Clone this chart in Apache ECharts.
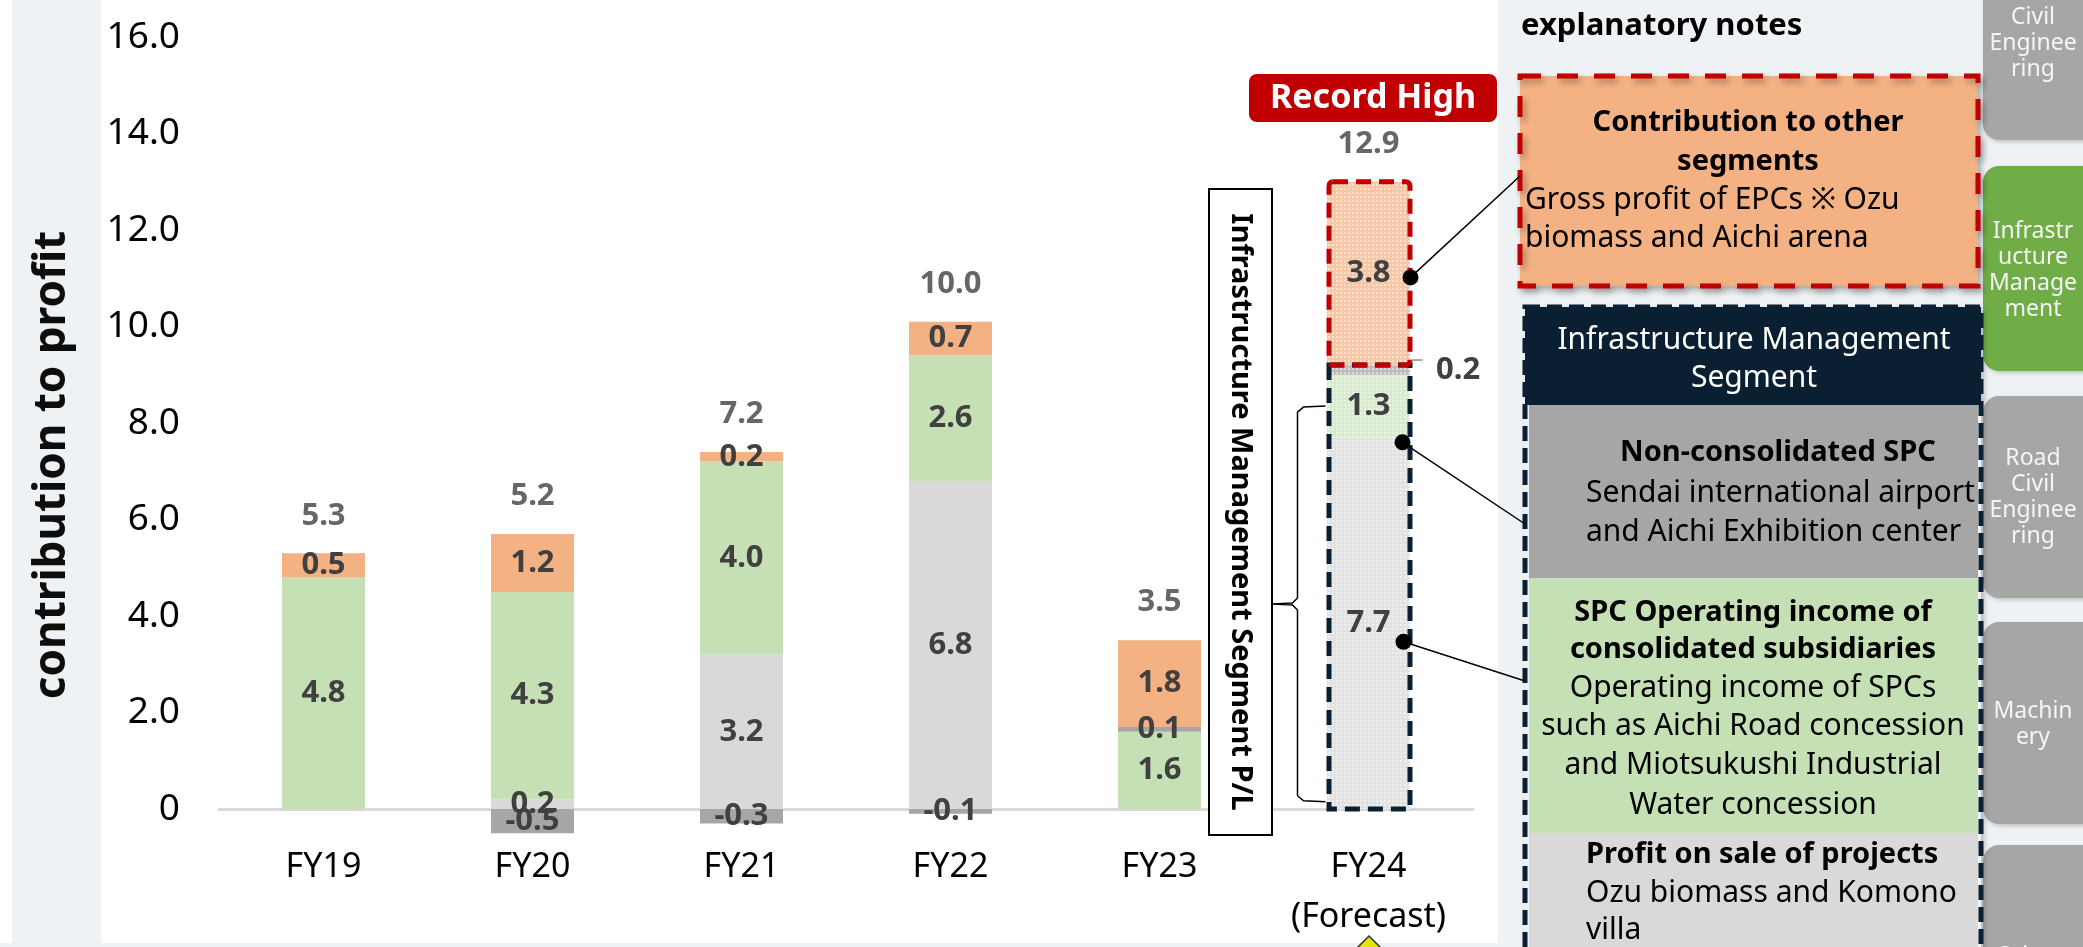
<!DOCTYPE html>
<html>
<head>
<meta charset="utf-8">
<title>Infrastructure Management contribution to profit</title>
<script src="https://cdn.jsdelivr.net/npm/echarts/dist/echarts.min.js"></script>
<style>
  html, body { margin: 0; padding: 0; background: #fff; }
  #main { width: 2083px; height: 947px; }
</style>
</head>
<body>
<div id="main"></div>
<script>
// data (billion yen)
const categories = ['FY19', 'FY20', 'FY21', 'FY22', 'FY23', 'FY24\n(Forecast)']
const saleProfit = [null, 0.2, 3.2, 6.8, null, 7.7]          // profit on sale of projects
const spcConsolidated = [4.8, 4.3, 4.0, 2.6, 1.6, 1.3]       // SPC operating income, consolidated
const spcNonConsolidated = [null, -0.5, -0.3, -0.1, 0.1, 0.2] // non-consolidated SPC
const otherSegments = [0.5, 1.2, 0.2, 0.7, 1.8, 3.8]         // contribution to other segments
const totals = [5.3, 5.2, 7.2, 10.0, 3.5, 12.9]
const forecastIndex = 5

const FONT = '"Noto Sans", "Open Sans", sans-serif'
const colors = {
  sale: '#d9d9d9',
  spc: '#c5e0b4',
  nonSpc: '#a6a6a6',
  other: '#f4b183',
  panel: '#eef2f4',
  navy: '#0b1f33',
  red: '#c00000'
}
// lighter fill for the forecast bar (dotted texture in the original)
const forecastColors = {
  sale: '#e2e2e2',
  spc: '#d9ebcf',
  nonSpc: '#bdbdbd',
  other: '#f7c6a5'
}

const hatch = {
  symbol: 'rect',
  symbolSize: 1,
  color: 'rgba(255,255,255,0.45)',
  dashArrayX: [2, 2],
  dashArrayY: [2, 2],
  rotation: 0
}

function buildData(values, key) {
  return values.map((v, i) => {
    if (i !== forecastIndex || v == null) return v
    return { value: v, itemStyle: { color: forecastColors[key], decal: hatch } }
  })
}

// top of positive stack, used to place the total labels
const positiveTop = categories.map((c, i) =>
  [saleProfit[i], spcConsolidated[i], spcNonConsolidated[i], otherSegments[i]]
    .filter(v => v != null && v > 0)
    .reduce((a, b) => a + b, 0)
)
const segmentTop = (saleProfit[forecastIndex] || 0) + spcConsolidated[forecastIndex] +
  Math.max(spcNonConsolidated[forecastIndex], 0)
const frameData = [
  [forecastIndex, 0, segmentTop],
  [forecastIndex, segmentTop, segmentTop + otherSegments[forecastIndex]]
]

const segLabel = {
  show: true,
  position: 'inside',
  color: '#404040',
  fontSize: 31,
  fontWeight: 'bold',
  fontFamily: FONT,
  formatter: p => (p.value == null ? '' : Number(p.value).toFixed(1))
}

function barSeries(name, values, key) {
  return {
    name: name,
    type: 'bar',
    stack: 'pl',
    barWidth: 83,
    clip: false,
    itemStyle: { color: colors[key] },
    label: segLabel,
    data: buildData(values, key)
  }
}

const nonSpcSeries = barSeries('Non-consolidated SPC', spcNonConsolidated, 'nonSpc')
// forecast value 0.2 sits to the right of the bar
nonSpcSeries.data[forecastIndex].label = { position: 'right', distance: 26 }

// ---------- right hand panel ----------
const tabs = [
  { y: -20, h: 160, text: 'Civil\nEnginee\nring', ty: 43, color: '#a6a6a6' },
  { y: 166, h: 205, text: 'Infrastr\nucture\nManage\nment', ty: 270, color: '#70ad47' },
  { y: 396, h: 202, text: 'Road\nCivil\nEnginee\nring', ty: 497, color: '#a6a6a6' },
  { y: 622, h: 202, text: 'Machin\nery', ty: 724, color: '#a6a6a6' },
  { y: 845, h: 160, text: 'Others', ty: 956, color: '#a6a6a6' }
]

const textStyle = (extra) => Object.assign({
  fontFamily: FONT,
  fontSize: 30,
  fill: '#000',
  lineHeight: 38
}, extra)

const panelGraphics = [
  // backgrounds
  { type: 'rect', z: 0, shape: { x: 12, y: 0, width: 89, height: 943 }, style: { fill: colors.panel } },
  { type: 'rect', z: 0, shape: { x: 0, y: 943, width: 2083, height: 4 }, style: { fill: colors.panel } },
  { type: 'rect', z: 0, shape: { x: 1498, y: 0, width: 585, height: 947 }, style: { fill: colors.panel } },
  // axis title
  {
    type: 'text', z: 5, x: 52, y: 465, rotation: Math.PI / 2,
    style: textStyle({ text: 'contribution to profit', fontSize: 44, fontWeight: 'bold', align: 'center', verticalAlign: 'middle', fill: '#0d0d0d' })
  },
  // panel title
  {
    type: 'text', z: 5, x: 1521, y: 26,
    style: textStyle({ text: 'explanatory notes', fontSize: 31, fontWeight: 'bold', verticalAlign: 'middle' })
  },
  // contribution to other segments box
  {
    type: 'rect', z: 4, shape: { x: 1520, y: 76, width: 458, height: 210 },
    style: {
      fill: colors.other, stroke: colors.red, lineWidth: 5, lineDash: [21, 16],
      shadowBlur: 6, shadowOffsetX: 3, shadowOffsetY: 4, shadowColor: 'rgba(0,0,0,0.3)'
    }
  },
  { type: 'text', z: 6, x: 1748, y: 123, style: textStyle({ text: 'Contribution to other', fontWeight: 'bold', fontSize: 29, align: 'center', verticalAlign: 'middle' }) },
  { type: 'text', z: 6, x: 1748, y: 162, style: textStyle({ text: 'segments', fontWeight: 'bold', fontSize: 29, align: 'center', verticalAlign: 'middle' }) },
  { type: 'text', z: 6, x: 1525, y: 200, style: textStyle({ text: 'Gross profit of EPCs \u203b Ozu', verticalAlign: 'middle' }) },
  { type: 'text', z: 6, x: 1525, y: 238, style: textStyle({ text: 'biomass and Aichi arena', verticalAlign: 'middle' }) },
  // infrastructure management segment
  {
    type: 'rect', z: 4, shape: { x: 1525, y: 307, width: 456, height: 700 },
    style: { fill: colors.panel, shadowBlur: 6, shadowOffsetX: 3, shadowOffsetY: 3, shadowColor: 'rgba(0,0,0,0.25)' }
  },
  { type: 'rect', z: 5, shape: { x: 1525, y: 307, width: 456, height: 98 }, style: { fill: colors.navy } },
  { type: 'rect', z: 5, shape: { x: 1529, y: 405, width: 449, height: 173 }, style: { fill: '#a6a6a6' } },
  { type: 'rect', z: 5, shape: { x: 1529, y: 578, width: 449, height: 255 }, style: { fill: colors.spc } },
  { type: 'rect', z: 5, shape: { x: 1529, y: 833, width: 449, height: 120 }, style: { fill: colors.sale } },
  {
    type: 'rect', z: 7, shape: { x: 1525, y: 307, width: 456, height: 700 },
    style: { fill: null, stroke: colors.navy, lineWidth: 5, lineDash: [15, 7] }
  },
  { type: 'text', z: 6, x: 1754, y: 340, style: textStyle({ text: 'Infrastructure Management', fill: '#fff', align: 'center', verticalAlign: 'middle' }) },
  { type: 'text', z: 6, x: 1754, y: 378, style: textStyle({ text: 'Segment', fill: '#fff', align: 'center', verticalAlign: 'middle' }) },
  { type: 'text', z: 6, x: 1778, y: 453, style: textStyle({ text: 'Non-consolidated SPC', fontWeight: 'bold', fontSize: 29, align: 'center', verticalAlign: 'middle' }) },
  { type: 'text', z: 6, x: 1586, y: 493, style: textStyle({ text: 'Sendai international airport', verticalAlign: 'middle' }) },
  { type: 'text', z: 6, x: 1586, y: 532, style: textStyle({ text: 'and Aichi Exhibition center', verticalAlign: 'middle' }) },
  { type: 'text', z: 6, x: 1753, y: 613, style: textStyle({ text: 'SPC Operating income of', fontWeight: 'bold', fontSize: 29, align: 'center', verticalAlign: 'middle' }) },
  { type: 'text', z: 6, x: 1753, y: 650, style: textStyle({ text: 'consolidated subsidiaries', fontWeight: 'bold', fontSize: 29, align: 'center', verticalAlign: 'middle' }) },
  { type: 'text', z: 6, x: 1753, y: 688, style: textStyle({ text: 'Operating income of SPCs', align: 'center', verticalAlign: 'middle' }) },
  { type: 'text', z: 6, x: 1753, y: 726, style: textStyle({ text: 'such as Aichi Road concession', align: 'center', verticalAlign: 'middle' }) },
  { type: 'text', z: 6, x: 1753, y: 765, style: textStyle({ text: 'and Miotsukushi Industrial', align: 'center', verticalAlign: 'middle' }) },
  { type: 'text', z: 6, x: 1753, y: 805, style: textStyle({ text: 'Water concession', align: 'center', verticalAlign: 'middle' }) },
  { type: 'text', z: 6, x: 1586, y: 855, style: textStyle({ text: 'Profit on sale of projects', fontWeight: 'bold', fontSize: 29, verticalAlign: 'middle' }) },
  { type: 'text', z: 6, x: 1586, y: 893, style: textStyle({ text: 'Ozu biomass and Komono', verticalAlign: 'middle' }) },
  { type: 'text', z: 6, x: 1586, y: 930, style: textStyle({ text: 'villa', verticalAlign: 'middle' }) },
  // record high badge
  { type: 'rect', z: 6, shape: { x: 1249, y: 74, width: 248, height: 48, r: 8 }, style: { fill: colors.red } },
  { type: 'text', z: 7, x: 1373, y: 98, style: textStyle({ text: 'Record High', fill: '#fff', fontSize: 34, fontWeight: 'bold', align: 'center', verticalAlign: 'middle' }) },
  // vertical segment label box
  { type: 'rect', z: 6, shape: { x: 1209, y: 189, width: 63, height: 646 }, style: { fill: '#fff', stroke: '#000', lineWidth: 2 } },
  {
    type: 'text', z: 7, x: 1240, y: 512, rotation: -Math.PI / 2,
    style: textStyle({ text: 'Infrastructure Management Segment P/L', fontSize: 29, fontWeight: 'bold', align: 'center', verticalAlign: 'middle' })
  },
  // little marker below FY24
  { type: 'polygon', z: 6, shape: { points: [[1357, 948], [1369, 936], [1381, 948]] }, style: { fill: '#e2e600', stroke: '#333', lineWidth: 1.5 } }
]

tabs.forEach(t => {
  panelGraphics.push({
    type: 'rect', z: 3, shape: { x: 1983, y: t.y, width: 130, height: t.h, r: 16 },
    style: { fill: t.color, shadowBlur: 4, shadowOffsetX: 2, shadowOffsetY: 2, shadowColor: 'rgba(0,0,0,0.2)' }
  })
  panelGraphics.push({
    type: 'text', z: 4, x: 2033, y: t.ty,
    style: textStyle({ text: t.text, fill: '#f5f5f5', fontSize: 23, lineHeight: 26, align: 'center', verticalAlign: 'middle' })
  })
})

const option = {
  backgroundColor: '#fff',
  animation: false,
  grid: { left: 219, right: 610, top: 37, bottom: 138 },
  xAxis: {
    type: 'category',
    data: categories,
    axisLine: { show: true, lineStyle: { color: '#d9d9d9', width: 3 } },
    axisTick: { show: false },
    axisLabel: { color: '#000', fontSize: 34, fontFamily: FONT, margin: 33, lineHeight: 50 }
  },
  yAxis: {
    type: 'value',
    min: 0,
    max: 16,
    interval: 2,
    axisLine: { show: false },
    axisTick: { show: false },
    splitLine: { show: false },
    axisLabel: {
      color: '#000',
      fontSize: 37,
      fontFamily: FONT,
      margin: 39,
      formatter: v => (v === 0 ? '0' : v.toFixed(1))
    }
  },
  series: [
    barSeries('Profit on sale of projects', saleProfit, 'sale'),
    barSeries('SPC operating income of consolidated subsidiaries', spcConsolidated, 'spc'),
    nonSpcSeries,
    barSeries('Contribution to other segments', otherSegments, 'other'),
    {
      name: 'Total',
      type: 'scatter',
      symbolSize: 0,
      silent: true,
      z: 5,
      label: {
        show: true,
        position: 'top',
        distance: 22,
        color: '#404040',
        fontSize: 31,
        fontWeight: 'bold',
        fontFamily: FONT,
        formatter: p => totals[p.dataIndex].toFixed(1)
      },
      data: positiveTop.map((v, i) => [i, v])
    },
    {
      name: 'Forecast frame',
      type: 'custom',
      z: 6,
      silent: true,
      encode: { x: 0, y: [1, 2] },
      renderItem: (params, api) => {
        const lo = api.coord([api.value(0), api.value(1)])
        const hi = api.coord([api.value(0), api.value(2)])
        const w = 83
        return {
          type: 'rect',
          shape: { x: lo[0] - w / 2 + 2, y: hi[1], width: w - 2, height: lo[1] - hi[1], r: params.dataIndex === 1 ? 4 : 0 },
          style: {
            fill: null,
            stroke: params.dataIndex === 1 ? colors.red : colors.navy,
            lineWidth: 5,
            lineDash: [15, 8]
          }
        }
      },
      data: frameData
    }
  ],
  graphic: panelGraphics
}

const chart = echarts.init(document.getElementById('main'))
chart.setOption(option)

// annotations tied to the forecast bar
const px = v => chart.convertToPixel({ gridIndex: 0 }, [forecastIndex, v])
const dot1 = px(segmentTop + otherSegments[forecastIndex] / 2)
const dot2 = px(saleProfit[forecastIndex] - 0.1)
const dot3 = px(saleProfit[forecastIndex] * 0.45)
const nonTop = px(segmentTop)
const bracketTop = px(saleProfit[forecastIndex] + spcConsolidated[forecastIndex] * 0.5)
const bracketBottom = px(0.15)
const bx = dot1[0] - 43 // left edge of the bar
const midY = (bracketTop[1] + bracketBottom[1]) / 2

const annotations = [
  { type: 'line', z: 10, shape: { x1: dot1[0] + 42, y1: dot1[1] + 4, x2: 1520, y2: 176 }, style: { stroke: '#000', lineWidth: 1.5 } },
  { type: 'line', z: 10, shape: { x1: dot2[0] + 34, y1: dot2[1], x2: 1525, y2: 524 }, style: { stroke: '#000', lineWidth: 1.5 } },
  { type: 'line', z: 10, shape: { x1: dot3[0] + 35, y1: dot3[1], x2: 1525, y2: 681 }, style: { stroke: '#000', lineWidth: 1.5 } },
  { type: 'circle', z: 11, shape: { cx: dot1[0] + 42, cy: dot1[1] + 4, r: 8 }, style: { fill: '#000' } },
  { type: 'circle', z: 11, shape: { cx: dot2[0] + 34, cy: dot2[1], r: 8 }, style: { fill: '#000' } },
  { type: 'circle', z: 11, shape: { cx: dot3[0] + 35, cy: dot3[1], r: 8 }, style: { fill: '#000' } },
  // leader for the 0.2 label
  { type: 'line', z: 10, shape: { x1: bx + 86, y1: nonTop[1] - 5, x2: bx + 97, y2: nonTop[1] - 5 }, style: { stroke: '#a6a6a6', lineWidth: 2 } },
  // brace between the P/L box and the forecast bar
  {
    type: 'polyline', z: 10,
    shape: {
      points: [
        [bx, bracketTop[1]], [bx - 22, bracketTop[1] + 1], [bx - 28, bracketTop[1] + 6],
        [bx - 28, midY - 6], [bx - 33, midY - 1], [bx - 53, midY], [bx - 33, midY + 1], [bx - 28, midY + 6],
        [bx - 28, bracketBottom[1] - 6], [bx - 22, bracketBottom[1] - 1], [bx, bracketBottom[1]]
      ]
    },
    style: { stroke: '#000', lineWidth: 1.5, fill: null }
  }
]

chart.setOption({ graphic: panelGraphics.concat(annotations) })
</script>
</body>
</html>
